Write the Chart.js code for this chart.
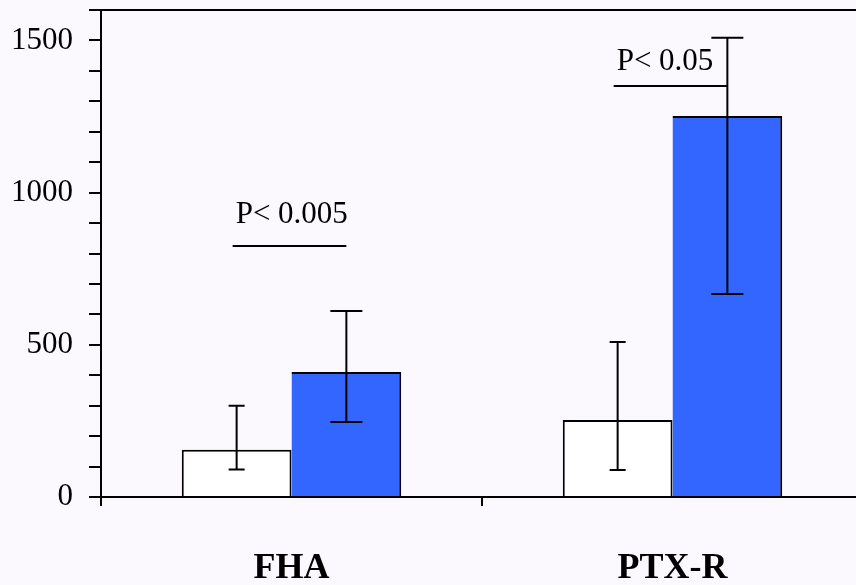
<!DOCTYPE html>
<html>
<head>
<meta charset="utf-8">
<script src="https://cdn.jsdelivr.net/npm/chart.js@4.4.1/dist/chart.umd.min.js"></script>
<style>
    html, body { margin: 0; padding: 0; background: #fcf9fe; overflow: hidden; }
    #wrap { width: 863px; height: 585px; }
</style>
</head>
<body>
<div id="wrap"><canvas id="chart"></canvas></div>
<script>
const categories = ['FHA', 'PTX-R'];
const controlValues = [155, 253];
const controlLow = [90, 89];
const controlHigh = [300, 509];
const treatedValues = [411, 1252];
const treatedLow = [246, 667];
const treatedHigh = [611, 1509];
const yTickLabels = [0, 500, 1000, 1500];
const sigLabels = ['P< 0.005', 'P< 0.05'];
const sigLineValues = [825, 1350];
const sigTextValues = [901, 1403];

const serif = "'Liberation Serif', 'Times New Roman', serif";

const errorBars = {
    id: 'errorBars',
    afterDatasetsDraw(chart) {
        const ctx = chart.ctx;
        const y = chart.scales.y;
        ctx.save();
        ctx.strokeStyle = '#000';
        ctx.lineWidth = 2;
        chart.data.datasets.forEach(function (ds, di) {
            const meta = chart.getDatasetMeta(di);
            meta.data.forEach(function (bar, i) {
                const top = y.getPixelForValue(ds.errHigh[i]);
                const bot = y.getPixelForValue(ds.errLow[i]);
                const half = ds.capWidth / 2;
                ctx.beginPath();
                ctx.moveTo(bar.x, top);
                ctx.lineTo(bar.x, bot);
                ctx.moveTo(bar.x - half, top);
                ctx.lineTo(bar.x + half, top);
                ctx.moveTo(bar.x - half, bot);
                ctx.lineTo(bar.x + half, bot);
                ctx.stroke();
            });
        });

        // significance markers
        const a = chart.getDatasetMeta(0).data;
        const b = chart.getDatasetMeta(1).data;
        ctx.font = '31px ' + serif;
        ctx.fillStyle = '#000';
        ctx.textAlign = 'left';
        ctx.textBaseline = 'alphabetic';
        sigLabels.forEach(function (txt, i) {
            const ly = y.getPixelForValue(sigLineValues[i]);
            const ty = y.getPixelForValue(sigTextValues[i]);
            ctx.beginPath();
            ctx.moveTo(a[i].x - 4, ly);
            ctx.lineTo(b[i].x, ly);
            ctx.stroke();
            ctx.fillText(txt, a[i].x - 1, ty);
        });

        // top frame line
        ctx.beginPath();
        ctx.moveTo(chart.chartArea.left, chart.chartArea.top);
        ctx.lineTo(chart.chartArea.right, chart.chartArea.top);
        ctx.stroke();
        ctx.restore();
    }
};

new Chart(document.getElementById('chart').getContext('2d'), {
    type: 'bar',
    data: {
        labels: categories,
        datasets: [{
            data: controlValues,
            errLow: controlLow,
            errHigh: controlHigh,
            capWidth: 16,
            backgroundColor: '#ffffff',
            borderColor: '#000000',
            borderWidth: 2,
            categoryPercentage: 0.576,
            barPercentage: 1
        }, {
            data: treatedValues,
            errLow: treatedLow,
            errHigh: treatedHigh,
            capWidth: 32,
            backgroundColor: '#3366ff',
            borderColor: '#000000',
            borderWidth: { top: 2, right: 2, bottom: 0, left: 0 },
            categoryPercentage: 0.576,
            barPercentage: 1
        }]
    },
    options: {
        responsive: true,
        maintainAspectRatio: false,
        animation: false,
        layout: { padding: { top: 10, left: 0, right: 0, bottom: 0 } },
        plugins: { legend: { display: false }, tooltip: { enabled: false } },
        scales: {
            x: {
                afterFit: function (s) { s.height = 88; s.paddingLeft = 0; s.paddingRight = 0; },
                border: { color: '#000', width: 2 },
                grid: { drawOnChartArea: false, drawTicks: true, tickLength: 9, color: '#000', lineWidth: 2 },
                ticks: { color: '#000', padding: 41, font: { family: serif, size: 36, weight: 'bold' } }
            },
            y: {
                min: 0,
                max: 1600,
                afterFit: function (s) { s.width = 101; s.paddingTop = 0; s.paddingBottom = 0; },
                border: { color: '#000', width: 2 },
                grid: { drawOnChartArea: false, drawTicks: true, tickLength: 12, color: '#000', lineWidth: 2 },
                ticks: {
                    stepSize: 100,
                    autoSkip: false,
                    color: '#000',
                    padding: 16,
                    font: { family: serif, size: 31 },
                    callback: function (v) { return yTickLabels.includes(v) ? String(v) : ''; }
                }
            }
        }
    },
    plugins: [errorBars]
});
</script>
</body>
</html>
